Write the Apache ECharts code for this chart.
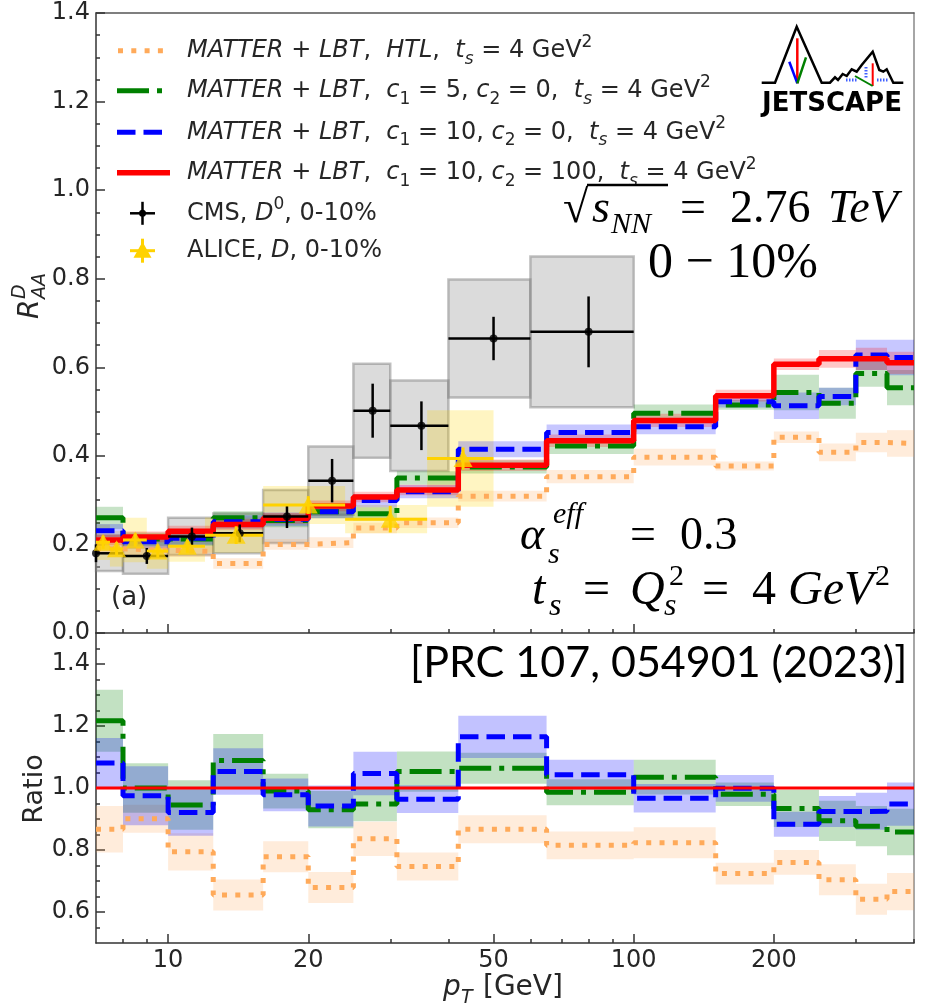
<!DOCTYPE html>
<html><head><meta charset="utf-8">
<script src="https://cdn.jsdelivr.net/npm/echarts@6/dist/echarts.min.js"></script>
<style>html,body{margin:0;padding:0;background:#fff}#c{width:925px;height:1007px}</style>
</head><body><div id="c"></div>
<script>
// ---------------- data ----------------
const binEdges = [7, 8, 10, 12.5, 16, 20, 25, 31, 42, 65, 100, 150, 200, 250, 300, 350, 400];

// R_AA, top panel
const raaHTL     = [0.190, 0.187, 0.184, 0.157, 0.200, 0.204, 0.237, 0.249, 0.309, 0.353, 0.397, 0.377, 0.442, 0.408, 0.430, 0.428];
const raaC5      = [0.260, 0.212, 0.212, 0.260, 0.254, 0.274, 0.269, 0.350, 0.375, 0.422, 0.496, 0.515, 0.543, 0.519, 0.586, 0.554];
const raaC10     = [0.231, 0.206, 0.214, 0.251, 0.257, 0.274, 0.299, 0.319, 0.415, 0.453, 0.466, 0.522, 0.513, 0.534, 0.628, 0.622];
const raaC10c100 = [0.210, 0.217, 0.230, 0.245, 0.259, 0.287, 0.307, 0.323, 0.379, 0.434, 0.480, 0.536, 0.607, 0.619, 0.619, 0.610];

const errHTL     = [0.012, 0.012, 0.012, 0.012, 0.012, 0.012, 0.012, 0.012, 0.012, 0.015, 0.019, 0.010, 0.013, 0.020, 0.022, 0.030];
const errC5      = [0.025, 0.015, 0.015, 0.015, 0.015, 0.015, 0.015, 0.015, 0.015, 0.018, 0.020, 0.011, 0.040, 0.035, 0.030, 0.040];
const errC10     = [0.015, 0.015, 0.015, 0.015, 0.015, 0.015, 0.015, 0.015, 0.018, 0.018, 0.017, 0.013, 0.030, 0.020, 0.034, 0.040];
const errC10c100 = [0.012, 0.012, 0.012, 0.012, 0.012, 0.012, 0.012, 0.012, 0.013, 0.014, 0.015, 0.013, 0.013, 0.020, 0.025, 0.025];

// Ratio, bottom panel
const ratioHTL     = [0.867, 0.901, 0.794, 0.655, 0.778, 0.679, 0.836, 0.747, 0.867, 0.815, 0.823, 0.724, 0.760, 0.704, 0.641, 0.666];
const ratioC5      = [1.217, 1.000, 0.945, 1.089, 0.990, 0.930, 0.948, 1.053, 1.064, 0.986, 1.035, 0.980, 0.934, 0.894, 0.877, 0.858];
const ratioC10     = [1.081, 0.975, 0.921, 1.053, 0.978, 0.942, 1.047, 0.964, 1.165, 1.043, 0.967, 0.999, 0.883, 0.924, 0.925, 0.948];
const ratioC10c100 = [1.0, 1.0, 1.0, 1.0, 1.0, 1.0, 1.0, 1.0, 1.0, 1.0, 1.0, 1.0, 1.0, 1.0, 1.0, 1.0];

const ratioErrHTL = [0.075, 0.045, 0.060, 0.050, 0.050, 0.050, 0.055, 0.045, 0.045, 0.045, 0.050, 0.035, 0.040, 0.050, 0.050, 0.060];
const ratioErrC5  = [0.100, 0.080, 0.080, 0.085, 0.056, 0.060, 0.055, 0.065, 0.050, 0.042, 0.056, 0.038, 0.060, 0.065, 0.065, 0.075];
const ratioErrC10 = [0.080, 0.095, 0.075, 0.075, 0.053, 0.066, 0.070, 0.045, 0.068, 0.048, 0.046, 0.043, 0.040, 0.050, 0.060, 0.070];

// CMS D0 0-10%
const cmsPt   = [7, 9, 11.25, 14.25, 18, 22.5, 27.5, 35, 50, 80];
const cmsLo   = [6, 8, 10, 12.5, 16, 20, 25, 30, 40, 60];
const cmsHi   = [8, 10, 12.5, 16, 20, 25, 30, 40, 60, 100];
const cmsRaa  = [0.180, 0.174, 0.218, 0.225, 0.263, 0.344, 0.502, 0.468, 0.665, 0.680];
const cmsStat = [0.020, 0.018, 0.020, 0.020, 0.026, 0.049, 0.061, 0.055, 0.049, 0.080];
const cmsSys  = [0.040, 0.040, 0.042, 0.045, 0.060, 0.077, 0.106, 0.102, 0.133, 0.170];

// ALICE D 0-10%
const alicePt   = [7.25, 7.75, 8.5, 9.5, 11, 14, 20, 30, 43];
const aliceLo   = [7, 7.5, 8, 9, 10, 12, 16, 24, 36];
const aliceHi   = [7.5, 8, 9, 10, 12, 16, 24, 36, 50];
const aliceRaa  = [0.205, 0.190, 0.210, 0.185, 0.196, 0.221, 0.289, 0.257, 0.394];
const aliceStat = [0.015, 0.015, 0.015, 0.015, 0.015, 0.020, 0.020, 0.030, 0.025];
const aliceSys  = [0.040, 0.040, 0.050, 0.040, 0.035, 0.040, 0.043, 0.032, 0.109];

// ticks
const xTickLabels = [10, 20, 50, 100, 200];
const xMajorTop = [10, 100];
const xMinorTop = [8, 9, 20, 30, 40, 50, 60, 70, 80, 90, 200, 300, 400];
const xMinorBottom = [8, 9, 30, 40, 60, 70, 80, 90, 300, 400];
const yRatioLabels = [0.6, 0.8, 1.0, 1.2, 1.4];
const yRatioMinor = [0.55, 0.65, 0.7, 0.75, 0.85, 0.9, 0.95, 1.05, 1.1, 1.15, 1.25, 1.3, 1.35, 1.45];

// ---------------- helpers ----------------
const TXT = '#262626';
const AX = '#333';
const C_HTL = '#ffaa5a', C_C5 = '#008000', C_C10 = '#0000ff', C_RED = '#ff0000';

function stepData(vals) { return binEdges.map((e, i) => [e, vals[Math.min(i, vals.length - 1)]]); }
function bandData(vals, errs) { return vals.map((v, i) => [binEdges[i], binEdges[i + 1], v, errs[i]]); }
function boxData(lo, hi, v, e) { return v.map((y, i) => [lo[i], hi[i], y, e[i]]); }
function errData(pt, lo, hi, v, e) { return v.map((y, i) => [pt[i], lo[i], hi[i], y, e[i]]); }

function rectRenderer(fill, stroke, lw) {
  return function (params, api) {
    const p1 = api.coord([api.value(0), api.value(2) + api.value(3)]);
    const p2 = api.coord([api.value(1), api.value(2) - api.value(3)]);
    const cs = params.coordSys;
    const shape = echarts.graphic.clipRectByRect(
      { x: p1[0], y: p1[1], width: p2[0] - p1[0], height: p2[1] - p1[1] },
      { x: cs.x, y: cs.y, width: cs.width, height: cs.height });
    if (!shape) return null;
    return { type: 'rect', shape: shape, style: { fill: fill, stroke: stroke || null, lineWidth: lw || 0 } };
  };
}
function errRenderer(color, lw) {
  return function (params, api) {
    const x = api.value(0), y = api.value(3), e = api.value(4);
    const cs = params.coordSys;
    const pc = api.coord([x, y]);
    const pl = api.coord([api.value(1), y]);
    const ph = api.coord([api.value(2), y]);
    const pu = api.coord([x, y + e]);
    const pd = api.coord([x, y - e]);
    const xl = Math.max(pl[0], cs.x), xh = Math.min(ph[0], cs.x + cs.width);
    return { type: 'group', children: [
      { type: 'line', shape: { x1: xl, y1: pc[1], x2: xh, y2: pc[1] }, style: { stroke: color, lineWidth: lw } },
      { type: 'line', shape: { x1: pc[0], y1: pu[1], x2: pc[0], y2: pd[1] }, style: { stroke: color, lineWidth: lw } }
    ] };
  };
}
function band(name, vals, errs, fill, xi, yi) {
  return { type: 'custom', name: name, xAxisIndex: xi, yAxisIndex: yi, renderItem: rectRenderer(fill),
           data: bandData(vals, errs), encode: { x: [0, 1], y: 2 }, silent: true, z: 2 };
}
function stepLine(name, vals, color, width, dash, xi, yi) {
  return { type: 'line', name: name, xAxisIndex: xi, yAxisIndex: yi, step: 'end', showSymbol: false, symbol: 'none',
           data: stepData(vals), lineStyle: { color: color, width: width, type: dash, cap: 'butt' }, z: 4, silent: true };
}

const DOT = [5, 8.3], DASHDOT = [32, 8, 5, 8], DASH = [18.5, 8];

const xCommon = { type: 'log', logBase: 10, min: 7, max: 400, splitLine: { show: false }, minorSplitLine: { show: false } };
const tickStyle = { color: AX, width: 1.5 };
const labelStyle = { fontFamily: 'DejaVu Sans', fontSize: 24, color: TXT };

// ---------------- text helpers ----------------
function dv(fs) {
  return {
    i:  { fontFamily: 'DejaVu Sans', fontStyle: 'italic', fontSize: fs, fill: TXT, lineHeight: Math.round(fs * 1.4) },
    n:  { fontFamily: 'DejaVu Sans', fontSize: fs, fill: TXT, lineHeight: Math.round(fs * 1.4) },
    si: { fontFamily: 'DejaVu Sans', fontStyle: 'italic', fontSize: Math.round(fs * 0.7), fill: TXT, lineHeight: Math.round(fs * 0.75), verticalAlign: 'bottom' },
    sn: { fontFamily: 'DejaVu Sans', fontSize: Math.round(fs * 0.7), fill: TXT, lineHeight: Math.round(fs * 0.75), verticalAlign: 'bottom' },
    up: { fontFamily: 'DejaVu Sans', fontSize: Math.round(fs * 0.7), fill: TXT, lineHeight: Math.round(fs * 0.75), verticalAlign: 'top' }
  };
}
function richText(x, y, text, fs) {
  return { type: 'text', x: x, y: y, silent: true,
           style: { text: text, rich: dv(fs), align: 'left', verticalAlign: 'middle', fontFamily: 'DejaVu Sans', fontSize: fs, fill: TXT } };
}
function serif(x, y, text, fs, italic, color) {
  return { type: 'text', x: x, y: y, silent: true,
           style: { text: text, fontFamily: 'Liberation Serif', fontStyle: italic ? 'italic' : 'normal', fontSize: fs,
                    fill: color || '#000', align: 'left', verticalAlign: 'middle' } };
}
function gline(x1, y1, x2, y2, color, w, dash) {
  return { type: 'line', silent: true, shape: { x1: x1, y1: y1, x2: x2, y2: y2 }, style: { stroke: color, lineWidth: w, lineDash: dash || null } };
}

const legendRows = [
  '{i|MATTER}{n| + }{i|LBT}{n|,  }{i|HTL}{n|,  }{i|t}{si|s}{n| = 4 GeV}{up|2}',
  '{i|MATTER}{n| + }{i|LBT}{n|,  }{i|c}{sn|1}{n| = 5, }{i|c}{sn|2}{n| = 0,  }{i|t}{si|s}{n| = 4 GeV}{up|2}',
  '{i|MATTER}{n| + }{i|LBT}{n|,  }{i|c}{sn|1}{n| = 10, }{i|c}{sn|2}{n| = 0,  }{i|t}{si|s}{n| = 4 GeV}{up|2}',
  '{i|MATTER}{n| + }{i|LBT}{n|,  }{i|c}{sn|1}{n| = 10, }{i|c}{sn|2}{n| = 100,  }{i|t}{si|s}{n| = 4 GeV}{up|2}',
  '{n|CMS, }{i|D}{up|0}{n|, 0-10%}',
  '{n|ALICE, }{i|D}{n|, 0-10%}'
];
const legendY = [50.7, 90.7, 132.3, 172.7, 213.3, 250.7];

const graphics = [];
// legend samples
graphics.push(gline(118, legendY[0], 166, legendY[0], C_HTL, 5, DOT));
graphics.push(gline(117, legendY[1], 166, legendY[1], C_C5, 5, DASHDOT));
graphics.push(gline(117, legendY[2], 170, legendY[2], C_C10, 5, DASH));
graphics.push(gline(117, legendY[3], 170, legendY[3], C_RED, 5.5));
graphics.push(gline(130, legendY[4], 155, legendY[4], '#000', 2.5));
graphics.push(gline(142.5, legendY[4] - 11.5, 142.5, legendY[4] + 11.5, '#000', 2.5));
graphics.push({ type: 'circle', silent: true, shape: { cx: 142.5, cy: legendY[4], r: 3.5 }, style: { fill: '#000' } });
graphics.push(gline(130, legendY[5], 155, legendY[5], '#ffd200', 3));
graphics.push(gline(142.5, legendY[5] - 12, 142.5, legendY[5] + 12, '#ffd200', 3));
graphics.push({ type: 'polygon', silent: true, shape: { points: [[142.5, legendY[5] - 9], [151.5, legendY[5] + 7], [133.5, legendY[5] + 7]] }, style: { fill: '#ffd200' } });
legendRows.forEach((t, i) => graphics.push(richText(187, legendY[i], t, 24)));

// sqrt(s_NN) = 2.76 TeV
graphics.push(serif(563, 210, '√', 46, false));
graphics.push(gline(587, 185, 668, 185, '#000', 2.5));
graphics.push(serif(592, 210, 's', 46, true));
graphics.push(serif(611, 225, 'NN', 30, true));
graphics.push(serif(680, 210, '=', 46, false));
graphics.push(serif(730, 210, '2.76', 46, false));
graphics.push(serif(828, 210, 'TeV', 46, true));
// 0 - 10%
graphics.push(serif(648, 264, '0 − 10%', 50, false));
// alpha_s^eff = 0.3
graphics.push(serif(520, 537, 'α', 46, true));
graphics.push(serif(553, 515, 'eff', 30, true));
graphics.push(serif(548, 555, 's', 30, true));
graphics.push(serif(630, 537, '=', 46, false));
graphics.push(serif(680, 537, '0.3', 46, false));
// t_s = Q_s^2 = 4 GeV^2
graphics.push(serif(532, 591, 't', 48, true));
graphics.push(serif(549, 607, 's', 32, true));
graphics.push(serif(583, 591, '=', 48, false));
graphics.push(serif(630, 591, 'Q', 48, true));
graphics.push(serif(669, 577, '2', 30, false));
graphics.push(serif(664, 607, 's', 32, true));
graphics.push(serif(702, 591, '=', 48, false));
graphics.push(serif(752, 591, '4', 48, false));
graphics.push(serif(788, 591, 'GeV', 48, true));
graphics.push(serif(875, 577, '2', 30, false));
// reference
graphics.push({ type: 'text', x: 410, y: 663, silent: true, style: { text: '[PRC 107, 054901 (2023)]', fontFamily: 'Lato', fontSize: 43, fill: '#000', align: 'left', verticalAlign: 'middle' } });
// (a)
graphics.push({ type: 'text', x: 111, y: 598, silent: true, style: { text: '(a)', fontFamily: 'DejaVu Sans', fontSize: 26, fill: TXT, align: 'left', verticalAlign: 'middle' } });
// axis titles
graphics.push({ type: 'group', x: 31, y: 293, rotation: Math.PI / 2, silent: true, children: [
  { type: 'text', x: -26, y: 0, style: { text: 'R', fontFamily: 'DejaVu Sans', fontStyle: 'italic', fontSize: 28, fill: TXT, align: 'left', verticalAlign: 'middle' } },
  { type: 'text', x: -6, y: -11, style: { text: 'D', fontFamily: 'DejaVu Sans', fontStyle: 'italic', fontSize: 19, fill: TXT, align: 'left', verticalAlign: 'middle' } },
  { type: 'text', x: -6, y: 9, style: { text: 'AA', fontFamily: 'DejaVu Sans', fontStyle: 'italic', fontSize: 19, fill: TXT, align: 'left', verticalAlign: 'middle' } }
] });
graphics.push({ type: 'text', x: 35, y: 789, rotation: Math.PI / 2, silent: true, style: { text: 'Ratio', fontFamily: 'DejaVu Sans', fontSize: 27, fill: TXT, align: 'center', verticalAlign: 'middle' } });
graphics.push({ type: 'text', x: 443, y: 988, silent: true, style: { text: 'p', fontFamily: 'DejaVu Sans', fontStyle: 'italic', fontSize: 28, fill: TXT, align: 'left', verticalAlign: 'middle' } });
graphics.push({ type: 'text', x: 461, y: 998, silent: true, style: { text: 'T', fontFamily: 'DejaVu Sans', fontStyle: 'italic', fontSize: 19, fill: TXT, align: 'left', verticalAlign: 'middle' } });
graphics.push({ type: 'text', x: 483, y: 988, silent: true, style: { text: '[GeV]', fontFamily: 'DejaVu Sans', fontSize: 28, fill: TXT, align: 'left', verticalAlign: 'middle' } });

// JETSCAPE logo
graphics.push({ type: 'polyline', silent: true, shape: { points: [[761.7, 82.7], [775, 82.7], [796.7, 26.7], [821.7, 82.7], [830, 82.7], [835, 77.3], [838, 80], [842.7, 74], [846.7, 76], [851.7, 69.3], [856.7, 71.7], [861.7, 65], [872.7, 51.7], [879.3, 70], [883.3, 71.7], [886.7, 69.3], [893.3, 82.7], [903.3, 82.7]] }, style: { stroke: '#000', lineWidth: 2.5, fill: null } });
graphics.push(gline(797.3, 38.3, 797.3, 83.3, '#ff0000', 2.5));
graphics.push(gline(789.3, 61.7, 797.3, 83.3, '#0000ff', 2.5));
graphics.push(gline(806, 57.3, 797.3, 83.3, '#008000', 2.5));
graphics.push(gline(872.7, 63.3, 872.7, 86, '#ff0000', 2));
graphics.push(gline(855, 76, 872.7, 86, '#008000', 2));
graphics.push(gline(846, 80, 857, 80, '#4060ff', 3, [1.5, 1.5]));
graphics.push(gline(866, 67, 866, 78, '#4060ff', 3, [1.5, 1.5]));
graphics.push(gline(877, 80, 889, 80, '#4060ff', 3, [1.5, 1.5]));
graphics.push({ type: 'text', x: 762, y: 104, silent: true, style: { text: 'JETSCAPE', fontFamily: 'DejaVu Sans', fontWeight: 'bold', fontSize: 26, fill: '#000', align: 'left', verticalAlign: 'middle' } });

// ---------------- chart ----------------
const chart = echarts.init(document.getElementById('c'), null, { renderer: 'canvas' });
chart.setOption({
  animation: false,
  backgroundColor: '#fff',
  grid: [
    { left: 96, top: 13, width: 818, height: 620, containLabel: false },
    { left: 96, top: 633, width: 818, height: 310, containLabel: false }
  ],
  xAxis: [
    Object.assign({}, xCommon, { gridIndex: 0, position: 'bottom', axisLine: { show: true, onZero: false, lineStyle: tickStyle },
      axisTick: { show: true, inside: true, length: 9, customValues: xMajorTop, lineStyle: tickStyle }, axisLabel: { show: false } }),
    Object.assign({}, xCommon, { gridIndex: 0, position: 'bottom', axisLine: { show: false, onZero: false },
      axisTick: { show: true, inside: true, length: 4, customValues: xMinorTop, lineStyle: tickStyle }, axisLabel: { show: false } }),
    Object.assign({}, xCommon, { gridIndex: 0, position: 'top', axisLine: { show: true, onZero: false, lineStyle: { color: '#555', width: 1.5 } },
      axisTick: { show: false }, axisLabel: { show: false } }),
    Object.assign({}, xCommon, { gridIndex: 1, position: 'bottom', axisLine: { show: true, onZero: false, lineStyle: tickStyle },
      axisTick: { show: true, inside: true, length: 9, customValues: xTickLabels, lineStyle: tickStyle },
      axisLabel: Object.assign({ show: true, customValues: xTickLabels, margin: 6, formatter: v => String(Math.round(v)) }, labelStyle) }),
    Object.assign({}, xCommon, { gridIndex: 1, position: 'bottom', axisLine: { show: false, onZero: false },
      axisTick: { show: true, inside: true, length: 4, customValues: xMinorBottom, lineStyle: tickStyle }, axisLabel: { show: false } })
  ],
  yAxis: [
    { type: 'value', gridIndex: 0, min: 0, max: 1.4, interval: 0.2, position: 'left',
      axisLine: { show: true, onZero: false, lineStyle: tickStyle },
      axisTick: { show: true, inside: true, length: 9, lineStyle: tickStyle },
      minorTick: { show: true, splitNumber: 4, length: 4, lineStyle: tickStyle },
      axisLabel: Object.assign({ margin: 6, formatter: v => v.toFixed(1) }, labelStyle),
      splitLine: { show: false }, minorSplitLine: { show: false } },
    { type: 'value', gridIndex: 0, min: 0, max: 1.4, position: 'right',
      axisLine: { show: true, onZero: false, lineStyle: { color: '#888', width: 1.5 } },
      axisTick: { show: false }, axisLabel: { show: false }, splitLine: { show: false } },
    { type: 'value', gridIndex: 1, min: 0.5, max: 1.5, position: 'left',
      axisLine: { show: true, onZero: false, lineStyle: tickStyle },
      axisTick: { show: true, inside: true, length: 9, customValues: yRatioLabels, lineStyle: tickStyle },
      axisLabel: Object.assign({ margin: 6, customValues: yRatioLabels, formatter: v => v.toFixed(1) }, labelStyle),
      splitLine: { show: false } },
    { type: 'value', gridIndex: 1, min: 0.5, max: 1.5, position: 'left',
      axisLine: { show: false, onZero: false },
      axisTick: { show: true, inside: true, length: 4, customValues: yRatioMinor, lineStyle: tickStyle },
      axisLabel: { show: false }, splitLine: { show: false } },
    { type: 'value', gridIndex: 1, min: 0.5, max: 1.5, position: 'right',
      axisLine: { show: true, onZero: false, lineStyle: { color: '#888', width: 1.5 } },
      axisTick: { show: false }, axisLabel: { show: false }, splitLine: { show: false } }
  ],
  series: [
    // experimental systematic boxes
    { type: 'custom', name: 'CMS sys', xAxisIndex: 0, yAxisIndex: 0, z: 1, silent: true,
      renderItem: rectRenderer('rgba(160,160,160,0.38)', 'rgba(120,120,120,0.45)', 2.5),
      data: boxData(cmsLo, cmsHi, cmsRaa, cmsSys), encode: { x: [0, 1], y: 2 } },
    { type: 'custom', name: 'ALICE sys', xAxisIndex: 0, yAxisIndex: 0, z: 1, silent: true,
      renderItem: rectRenderer('rgba(255,215,0,0.24)'),
      data: boxData(aliceLo, aliceHi, aliceRaa, aliceSys), encode: { x: [0, 1], y: 2 } },
    // theory bands (top)
    band('HTL band', raaHTL, errHTL, 'rgba(255,170,90,0.22)', 0, 0),
    band('c5 band', raaC5, errC5, 'rgba(0,128,0,0.22)', 0, 0),
    band('c10 band', raaC10, errC10, 'rgba(0,0,255,0.22)', 0, 0),
    band('c10c100 band', raaC10c100, errC10c100, 'rgba(255,0,0,0.22)', 0, 0),
    // theory lines (top)
    stepLine('HTL', raaHTL, C_HTL, 5, DOT, 0, 0),
    stepLine('c5', raaC5, C_C5, 5, DASHDOT, 0, 0),
    stepLine('c10', raaC10, C_C10, 5, DASH, 0, 0),
    stepLine('c10c100', raaC10c100, C_RED, 5.5, 'solid', 0, 0),
    // CMS points
    { type: 'custom', name: 'CMS err', xAxisIndex: 0, yAxisIndex: 0, z: 6, silent: true,
      renderItem: errRenderer('#000', 2.5), data: errData(cmsPt, cmsLo, cmsHi, cmsRaa, cmsStat), encode: { x: 0, y: 3 } },
    { type: 'scatter', name: 'CMS', xAxisIndex: 0, yAxisIndex: 0, z: 7, silent: true, symbol: 'circle', symbolSize: 8,
      itemStyle: { color: '#000' }, data: cmsPt.map((p, i) => [p, cmsRaa[i]]) },
    // ALICE points
    { type: 'custom', name: 'ALICE err', xAxisIndex: 0, yAxisIndex: 0, z: 6, silent: true,
      renderItem: errRenderer('#ffd200', 3), data: errData(alicePt, aliceLo, aliceHi, aliceRaa, aliceStat), encode: { x: 0, y: 3 } },
    { type: 'scatter', name: 'ALICE', xAxisIndex: 0, yAxisIndex: 0, z: 7, silent: true, symbol: 'triangle', symbolSize: [19, 17],
      itemStyle: { color: '#ffd200' }, data: alicePt.map((p, i) => [p, aliceRaa[i]]) },
    // ratio bands
    band('HTL ratio band', ratioHTL, ratioErrHTL, 'rgba(255,170,90,0.22)', 3, 2),
    band('c5 ratio band', ratioC5, ratioErrC5, 'rgba(0,128,0,0.24)', 3, 2),
    band('c10 ratio band', ratioC10, ratioErrC10, 'rgba(0,0,255,0.24)', 3, 2),
    // ratio lines
    stepLine('HTL ratio', ratioHTL, C_HTL, 5, DOT, 3, 2),
    stepLine('c5 ratio', ratioC5, C_C5, 5, DASHDOT, 3, 2),
    stepLine('c10 ratio', ratioC10, C_C10, 5, DASH, 3, 2),
    stepLine('c10c100 ratio', ratioC10c100, C_RED, 3, 'solid', 3, 2)
  ],
  graphic: { elements: graphics }
});
</script></body></html>
